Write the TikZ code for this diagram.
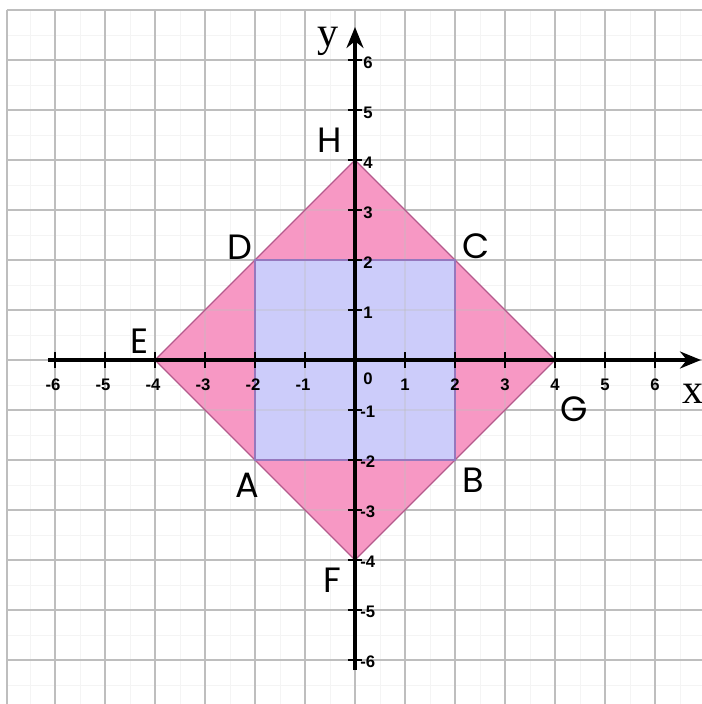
\documentclass[tikz,border=0pt]{standalone}
\usepackage{fontspec}
\setmainfont{Liberation Serif}
\newfontfamily\ptfont{Poppins}
\newfontfamily\tickfont{Liberation Sans}
\usetikzlibrary{arrows.meta}
\definecolor{gridgray}{RGB}{190,190,190}
\definecolor{minorgray}{RGB}{244,244,244}
\definecolor{diapink}{RGB}{247,152,196}
\definecolor{diaedge}{RGB}{180,90,140}
\definecolor{sqblue}{RGB}{204,204,250}
\definecolor{sqedge}{RGB}{150,120,190}
\tikzset{
  majorgrid/.style={draw=gridgray,line width=1pt},
  minorgrid/.style={draw=minorgray,line width=0.5pt},
  axisline/.style={line width=1.8pt,black},
  tickmark/.style={line width=1.3pt,black},
  ticklabel/.style={font=\tickfont\bfseries\fontsize{9.5}{10}\selectfont,inner sep=0pt},
  ptlabel/.style={font=\ptfont\fontsize{20}{20}\selectfont,inner sep=0pt},
  axlabel/.style={font=\fontsize{24}{24}\selectfont,inner sep=0pt}
}
\begin{document}
\begin{tikzpicture}
\useasboundingbox[fill=white] (-7.1,-6.88) rectangle (6.94,7.2);
% minor grid
\foreach \i in {-6.5,-5.5,...,6.5} {
  \draw[minorgrid] (\i,-6.88) -- (\i,7);
  \draw[minorgrid] (-6.96,\i) -- (6.94,\i);
}
% major grid
\foreach \i in {-6,...,6} \draw[majorgrid] (\i,-6.88) -- (\i,7);
\draw[majorgrid] (-6.96,-6.88) -- (-6.96,7);
\foreach \j in {-6,...,7} \draw[majorgrid] (-6.96,\j) -- (6.94,\j);
% shapes
\coordinate (E) at (-4,0);
\coordinate (F) at (0,-4);
\coordinate (G) at (4,0);
\coordinate (H) at (0,4);
\coordinate (A) at (-2,-2);
\coordinate (B) at (2,-2);
\coordinate (C) at (2,2);
\coordinate (D) at (-2,2);
\fill[diapink] (E) -- (F) -- (G) -- (H) -- cycle;
\fill[sqblue] (A) -- (B) -- (C) -- (D) -- cycle;
% grid shows faintly through the coloured areas
\begin{scope}
\clip (E) -- (F) -- (G) -- (H) -- cycle;
\foreach \i in {-4,...,4} {
  \draw[draw=gridgray,opacity=0.35,line width=0.8pt] (\i,-4) -- (\i,4);
  \draw[draw=gridgray,opacity=0.35,line width=0.8pt] (-4,\i) -- (4,\i);
}
\end{scope}
\draw[diaedge,line width=0.7pt] (E) -- (F) -- (G) -- (H) -- cycle;
\draw[sqedge,line width=0.7pt] (A) -- (B) -- (C) -- (D) -- cycle;
% axes
\coordinate (xl) at (-6.14,0);
\coordinate (xr) at (6.92,0);
\coordinate (yb) at (0,-6.2);
\coordinate (yt) at (0,6.66);
\draw[axisline,-{Stealth[length=4.2mm,width=3.4mm]}] (xl) -- (xr);
\draw[axisline,-{Stealth[length=4.2mm,width=3.4mm]}] (yb) -- (yt);
\foreach \i in {-6,...,-1,1,2,...,6} {
  \draw[tickmark] (\i,-0.16) -- (\i,0.16);
  \draw[tickmark] (-0.14,\i) -- (0.14,\i);
}
\foreach \i in {-6,...,-1} {
  \node[ticklabel] (xt\i) at (\i-0.04,-0.5) {\i};
  \node[ticklabel,anchor=west] (yt\i) at (0.1,\i-0.04) {\i};
}
\foreach \i in {1,...,6} {
  \node[ticklabel] (xt\i) at (\i,-0.5) {\i};
  \node[ticklabel,anchor=west] (yt\i) at (0.16,\i-0.06) {\i};
}
\node[ticklabel] (zero) at (0.26,-0.38) {0};
% labels
\node[ptlabel] (lH) at (-0.5,4.4) {H};
\node[ptlabel] (lD) at (-2.3,2.26) {D};
\node[ptlabel] (lC) at (2.42,2.28) {C};
\node[ptlabel] (lE) at (-4.3,0.38) {E};
\node[ptlabel] (lG) at (4.38,-0.98) {G};
\node[ptlabel] (lA) at (-2.16,-2.5) {A};
\node[ptlabel] (lB) at (2.36,-2.4) {B};
\node[ptlabel] (lF) at (-0.46,-4.4) {F};
\node[axlabel] (lx) at (6.76,-0.68) {x};
\node[axlabel] (ly) at (-0.54,6.38) {y};
\end{tikzpicture}
\end{document}
